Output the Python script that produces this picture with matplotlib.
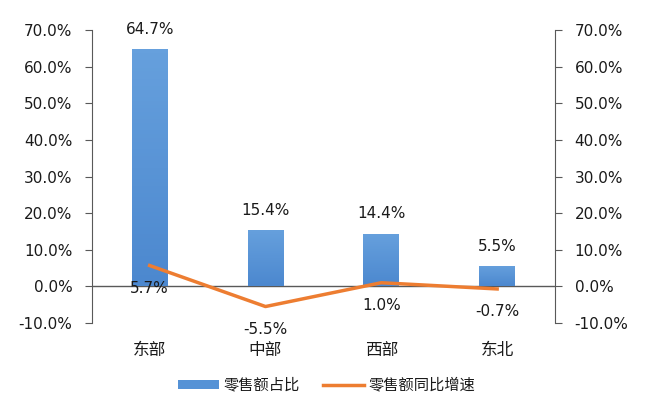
import matplotlib
matplotlib.use("Agg")
import matplotlib.pyplot as plt
import numpy as np
from matplotlib.colors import LinearSegmentedColormap
from matplotlib.ticker import FuncFormatter, MultipleLocator

plt.rcParams["font.family"] = ["DejaVu Sans", "Noto Sans CJK SC"]

regions = ["东部", "中部", "西部", "东北"]
share = [64.7, 15.4, 14.4, 5.5]          # 零售额占比 (%)
growth = [5.7, -5.5, 1.0, -0.7]          # 零售额同比增速 (%)

bar_color = "#5592D6"
line_color = "#ED7D31"
axis_color = "#595959"
text_color = "#1A1A1A"
cjk = ["Noto Sans CJK SC", "DejaVu Sans"]

fig = plt.figure(figsize=(6.6, 4.12), dpi=100)
ax = fig.add_axes([0.139, 0.216, 0.702, 0.711])
ax2 = ax.twinx()

x = list(range(len(regions)))
bars = ax.bar(x, share, width=0.31, color=bar_color, zorder=2, label="零售额占比")

# soft vertical gradient: slightly lighter at the top
grad = LinearSegmentedColormap.from_list("g", ["#4C88CF", "#66A0DD"])
for b in bars:
    x0, y0, w, h = b.get_x(), b.get_y(), b.get_width(), b.get_height()
    im = ax.imshow(np.linspace(0, 1, 64).reshape(-1, 1), cmap=grad, origin="lower",
                   extent=(x0, x0 + w, y0, y0 + h), aspect="auto", zorder=2)
    im.set_clip_path(b)

line, = ax2.plot(x, growth, color=line_color, lw=2.5, zorder=3, label="零售额同比增速")

pct = FuncFormatter(lambda v, _: f"{v:.1f}%")
for a in (ax, ax2):
    a.set_ylim(-10, 70)
    a.yaxis.set_major_locator(MultipleLocator(10))
    a.yaxis.set_major_formatter(pct)
    a.tick_params(axis="y", colors=axis_color, labelcolor=text_color, labelsize=11,
                  length=5, pad=9)
    for s in ("top", "bottom"):
        a.spines[s].set_visible(False)
ax.spines["right"].set_visible(False)
ax2.spines["left"].set_visible(False)
ax.spines["left"].set_color(axis_color)
ax2.spines["right"].set_color(axis_color)
ax.set_xlim(-0.5, len(regions) - 0.5)
ax.axhline(0, color=axis_color, lw=1, zorder=1)

ax.set_xticks(x)
ax.set_xticklabels(regions, family=cjk)
ax.tick_params(axis="x", length=0, pad=14, labelsize=12, labelcolor=text_color)

for xi, v in zip(x, share):
    ax.annotate(f"{v:.1f}%", (xi, v), xytext=(0, 9), textcoords="offset points",
                ha="center", va="bottom", fontsize=11, color=text_color)
for xi, v in zip(x, growth):
    ax2.annotate(f"{v:.1f}%", (xi, v), xytext=(0, -11), textcoords="offset points",
                 ha="center", va="top", fontsize=11, color=text_color)

fig.legend(handles=[bars, line], loc="center", bbox_to_anchor=(0.495, 0.065), ncol=2,
           frameon=False, handlelength=2.7, handleheight=0.5, handletextpad=0.3,
           columnspacing=1.5, prop={"family": cjk, "size": 11}, labelcolor=text_color)

fig.savefig("out.png", dpi=100)
